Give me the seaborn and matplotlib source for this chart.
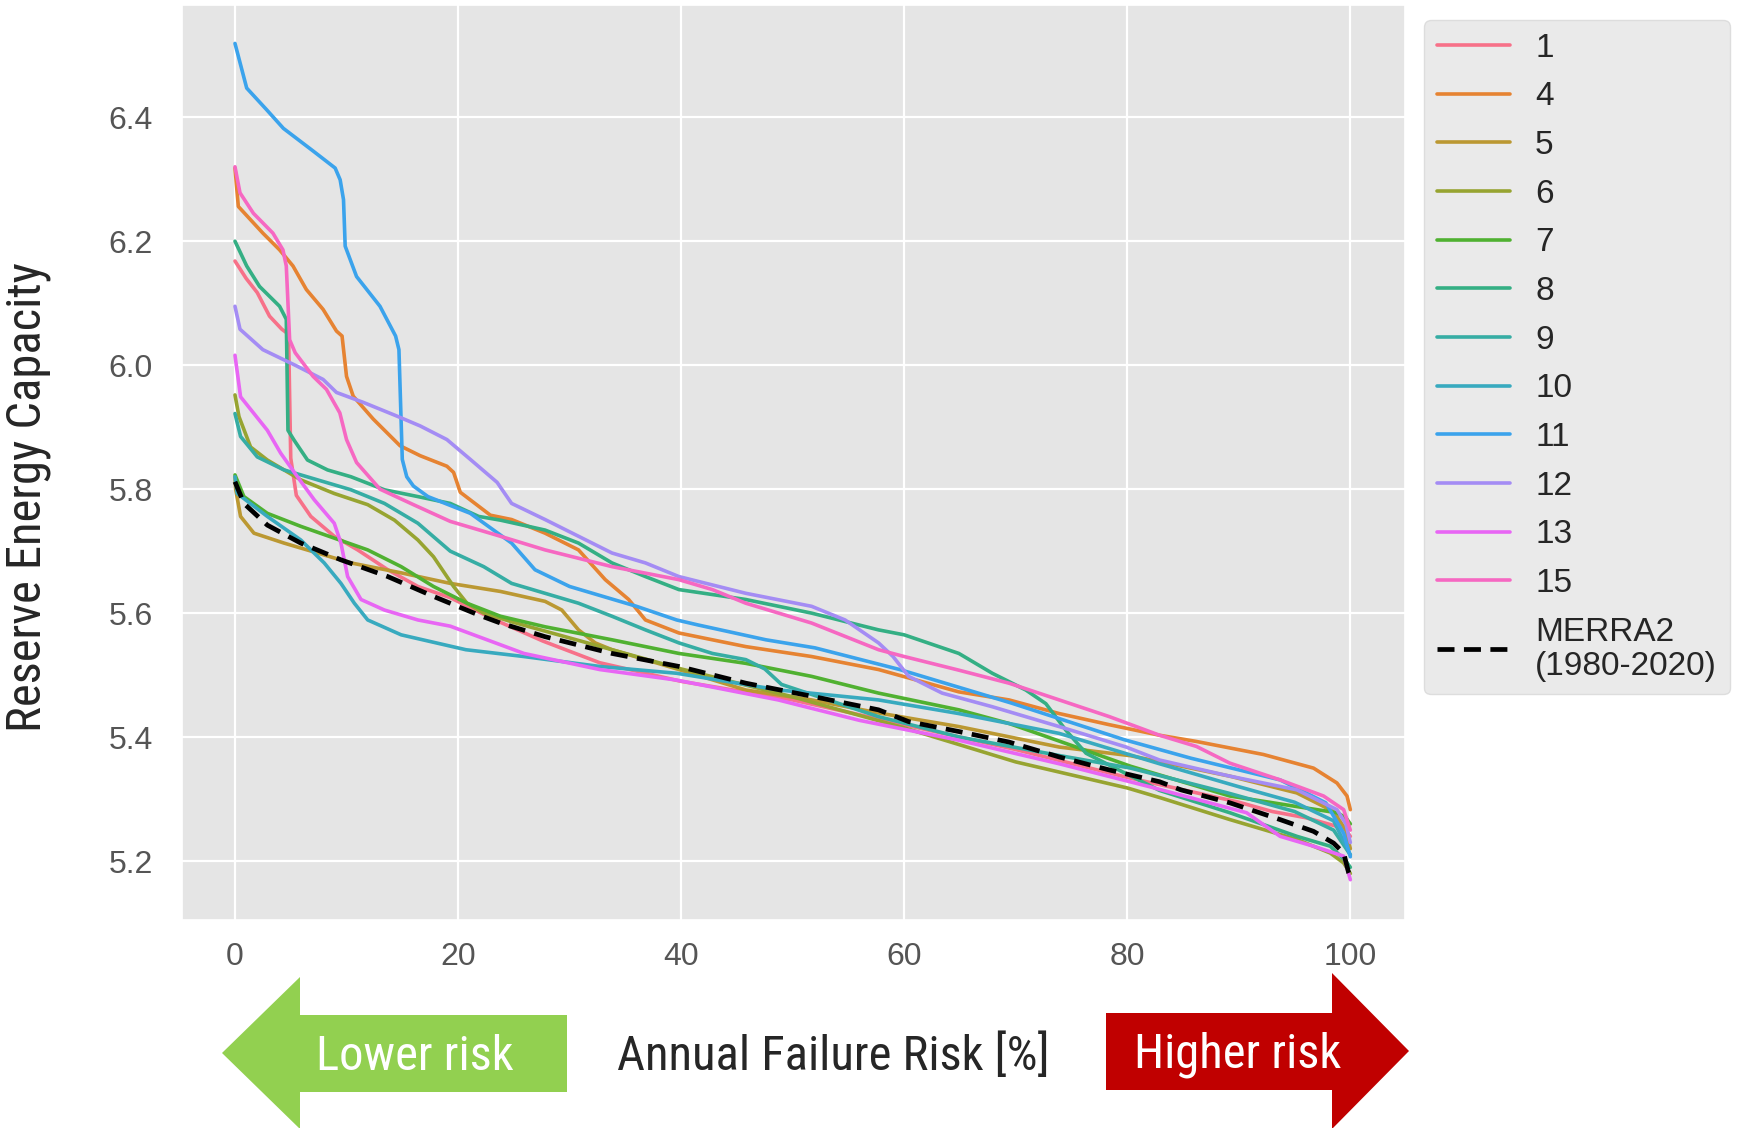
import matplotlib
matplotlib.use('Agg')
import matplotlib.pyplot as plt
from matplotlib import font_manager
from matplotlib.font_manager import FontProperties
from matplotlib.lines import Line2D
from matplotlib.patches import Polygon
import seaborn as sns
import pandas as pd

# runs shown in the legend (categorical hue, husl colours)
runs = ['1', '4', '5', '6', '7', '8', '9', '10', '11', '12', '13', '15']

# annual failure risk [%] and reserve energy capacity
risk_1 = [0, 1, 2, 3.1, 4.2, 4.8, 5.0, 5.5, 6.8, 8.9, 11, 13.7, 16.4, 19.3, 23.2, 27.6, 32.7, 40, 50, 60, 70, 80, 90, 93, 96, 98.8, 99.6, 100]
cap_1 = [6.168, 6.14, 6.117, 6.079, 6.058, 6.05, 5.85, 5.79, 5.756, 5.724, 5.702, 5.67, 5.643, 5.625, 5.59, 5.555, 5.52, 5.49, 5.46, 5.42, 5.38, 5.335, 5.295, 5.28, 5.27, 5.256, 5.25, 5.24]

risk_4 = [0, 0.3, 2.5, 4.0, 5.2, 6.4, 7.9, 9.1, 9.6, 10, 10.6, 12.4, 14.8, 16.6, 19, 19.6, 20.2, 22.9, 24.8, 27.8, 30.8, 33.2, 35.3, 36.8, 39.8, 45.8, 51.7, 57.7, 64.9, 69.4, 73.9, 78.4, 82.9, 86.2, 92.2, 96.7, 98.8, 99.7, 100]
cap_4 = [6.318, 6.256, 6.213, 6.186, 6.16, 6.122, 6.09, 6.055, 6.047, 5.982, 5.95, 5.913, 5.87, 5.854, 5.837, 5.827, 5.795, 5.758, 5.751, 5.729, 5.702, 5.654, 5.622, 5.589, 5.568, 5.546, 5.53, 5.509, 5.473, 5.46, 5.438, 5.42, 5.403, 5.393, 5.372, 5.35, 5.326, 5.305, 5.283]

risk_5 = [0, 0.06, 0.5, 1.7, 4.4, 7.4, 10.4, 14.9, 19.3, 23.8, 27.8, 29.3, 30.8, 32.3, 33.8, 39.8, 45.8, 51.7, 57.7, 64.9, 73.9, 80.3, 89.2, 95.2, 98.5, 99.6, 100]
cap_5 = [5.82, 5.80, 5.756, 5.729, 5.713, 5.697, 5.681, 5.665, 5.648, 5.635, 5.619, 5.605, 5.573, 5.552, 5.541, 5.509, 5.476, 5.46, 5.439, 5.417, 5.384, 5.37, 5.337, 5.31, 5.28, 5.25, 5.22]

risk_6 = [0, 0.36, 1.4, 2.9, 5.9, 8.9, 11.9, 14.3, 16.4, 17.8, 19.6, 20.8, 22.3, 25, 30, 40, 50, 60, 70, 80, 83, 89.2, 95.2, 98.2, 99.4, 100]
cap_6 = [5.952, 5.917, 5.868, 5.847, 5.815, 5.793, 5.775, 5.75, 5.718, 5.691, 5.643, 5.616, 5.60, 5.585, 5.56, 5.51, 5.465, 5.415, 5.36, 5.318, 5.302, 5.267, 5.235, 5.213, 5.197, 5.18]

risk_7 = [0, 0.8, 2.9, 5.9, 8.9, 11.9, 14.9, 17.8, 20.8, 23.8, 27.8, 33.8, 39.8, 45.8, 51.7, 57.7, 64.9, 69.4, 72.1, 80.3, 89.2, 95.2, 98.8, 99.6, 100]
cap_7 = [5.823, 5.788, 5.761, 5.74, 5.721, 5.702, 5.675, 5.643, 5.616, 5.595, 5.578, 5.557, 5.535, 5.519, 5.498, 5.471, 5.444, 5.422, 5.405, 5.353, 5.305, 5.288, 5.278, 5.27, 5.26]

risk_8 = [0, 1.05, 2.2, 4.0, 4.6, 4.75, 5.3, 6.5, 8.3, 10.4, 13.4, 16.4, 19.3, 21.85, 23.8, 27.8, 30.8, 33.8, 36.8, 39.8, 45.8, 51.7, 57.7, 60, 64.9, 67.9, 70.9, 72.7, 74.5, 76.3, 79.9, 82.9, 89.2, 95.2, 98.2, 99.6, 100]
cap_8 = [6.2, 6.16, 6.127, 6.095, 6.074, 5.895, 5.879, 5.847, 5.831, 5.82, 5.799, 5.788, 5.777, 5.756, 5.75, 5.734, 5.713, 5.681, 5.659, 5.638, 5.622, 5.60, 5.573, 5.565, 5.535, 5.503, 5.476, 5.454, 5.411, 5.374, 5.341, 5.314, 5.278, 5.24, 5.224, 5.20, 5.19]

risk_9 = [0, 0.5, 2, 4.4, 7.4, 10.4, 13.4, 16.4, 19.3, 22.3, 24.8, 27.8, 30.8, 33.8, 36.8, 39.8, 42.8, 45.8, 47.5, 49, 57.7, 65, 74, 80.3, 89, 95, 98.5, 100]
cap_9 = [5.922, 5.885, 5.852, 5.831, 5.815, 5.799, 5.777, 5.745, 5.70, 5.675, 5.648, 5.632, 5.616, 5.595, 5.573, 5.552, 5.535, 5.525, 5.51, 5.485, 5.433, 5.40, 5.37, 5.35, 5.31, 5.28, 5.25, 5.21]

risk_10 = [0, 0.2, 2.9, 5.9, 8, 9.5, 10.7, 11.9, 14.9, 20.7, 25.9, 32.7, 39.6, 48.8, 57.7, 64.9, 73.9, 82.9, 90, 95, 98.5, 100]
cap_10 = [5.82, 5.793, 5.756, 5.718, 5.681, 5.648, 5.616, 5.589, 5.565, 5.541, 5.53, 5.514, 5.503, 5.476, 5.46, 5.438, 5.406, 5.357, 5.32, 5.295, 5.265, 5.21]

risk_11 = [0, 1.05, 2.84, 4.34, 7.04, 8.98, 9.43, 9.73, 9.88, 10.9, 13.0, 14.4, 14.7, 15.0, 15.4, 16.0, 17.3, 21.1, 24.8, 26.9, 30, 36, 39.6, 41.5, 47.6, 52, 59.6, 69.6, 79.7, 85.7, 93.7, 97.8, 99.4, 100]
cap_11 = [6.519, 6.447, 6.412, 6.382, 6.345, 6.318, 6.299, 6.267, 6.192, 6.143, 6.095, 6.047, 6.025, 5.848, 5.82, 5.805, 5.788, 5.761, 5.713, 5.67, 5.643, 5.611, 5.589, 5.581, 5.557, 5.544, 5.509, 5.455, 5.396, 5.366, 5.331, 5.294, 5.245, 5.207]

risk_12 = [0, 0.45, 2.5, 5.5, 7.9, 9.1, 11.5, 14.5, 16.6, 19, 21.1, 23.5, 24.8, 27.8, 30.8, 33.8, 36.8, 39.8, 45.8, 51.7, 54.7, 57.7, 59, 60.4, 63.4, 67.9, 73.9, 79.9, 82.9, 89.2, 95.2, 98.8, 99.6, 100]
cap_12 = [6.095, 6.058, 6.025, 5.999, 5.977, 5.956, 5.94, 5.918, 5.902, 5.88, 5.848, 5.811, 5.777, 5.751, 5.724, 5.697, 5.681, 5.659, 5.632, 5.611, 5.589, 5.552, 5.53, 5.498, 5.471, 5.449, 5.417, 5.384, 5.363, 5.337, 5.315, 5.283, 5.26, 5.23]

risk_13 = [0, 0.5, 1.7, 2.9, 4.1, 5.6, 7.1, 8.9, 9.5, 10.1, 11.3, 13.4, 16.4, 19.3, 25.9, 32.7, 39.6, 48.7, 56, 64.9, 73.9, 82, 90.7, 93.7, 96.7, 99.4, 100]
cap_13 = [6.016, 5.949, 5.922, 5.895, 5.858, 5.82, 5.783, 5.745, 5.713, 5.659, 5.622, 5.605, 5.589, 5.579, 5.535, 5.509, 5.492, 5.46, 5.427, 5.395, 5.357, 5.32, 5.278, 5.24, 5.224, 5.208, 5.17]

risk_15 = [0, 0.45, 1.65, 3.4, 4.3, 4.6, 4.9, 5.4, 7.0, 8.2, 9.4, 10, 10.9, 13, 16, 19.3, 23.8, 27.8, 33.8, 39.8, 42.8, 45.8, 51.7, 57.7, 60, 64.9, 69.4, 73.9, 78.4, 82.9, 86.2, 89.2, 93.7, 97.6, 99.4, 100]
cap_15 = [6.32, 6.278, 6.245, 6.213, 6.186, 6.16, 6.041, 6.02, 5.982, 5.961, 5.923, 5.88, 5.843, 5.80, 5.775, 5.748, 5.724, 5.702, 5.675, 5.654, 5.638, 5.616, 5.584, 5.541, 5.53, 5.508, 5.487, 5.46, 5.433, 5.403, 5.385, 5.358, 5.331, 5.305, 5.283, 5.25]

risk_merra = [0, 0.8, 2.9, 5.9, 9.5, 13.7, 17.8, 21.85, 23.8, 27.8, 33.8, 39.8, 45.8, 51.7, 57.7, 60.4, 64.9, 69.4, 73.9, 78.4, 82.9, 84.8, 89.2, 93.7, 96.7, 98.5, 99.4, 99.85, 100]
cap_merra = [5.812, 5.777, 5.742, 5.713, 5.686, 5.659, 5.627, 5.597, 5.584, 5.562, 5.535, 5.514, 5.487, 5.466, 5.444, 5.425, 5.409, 5.392, 5.368, 5.347, 5.328, 5.315, 5.294, 5.267, 5.248, 5.229, 5.213, 5.181, 5.175]
merra_label = 'MERRA2\n(1980-2020)'

x_ticks = [0, 20, 40, 60, 80, 100]
y_ticks = [5.2, 5.4, 5.6, 5.8, 6.0, 6.2, 6.4]

risks = [risk_1, risk_4, risk_5, risk_6, risk_7, risk_8, risk_9, risk_10, risk_11, risk_12, risk_13, risk_15]
caps = [cap_1, cap_4, cap_5, cap_6, cap_7, cap_8, cap_9, cap_10, cap_11, cap_12, cap_13, cap_15]

df = pd.concat([pd.DataFrame({'risk': r, 'capacity': c, 'run': name})
                for name, r, c in zip(runs, risks, caps)], ignore_index=True)

sns.set_theme(style="darkgrid", rc={'axes.facecolor': '#E5E5E5',
                                     'grid.color': 'white',
                                     'grid.linewidth': 1.6,
                                     'axes.edgecolor': 'white'})
plt.rcParams['font.family'] = ['Liberation Sans', 'DejaVu Sans']

# narrow font for the slide-style labels, if one is installed
fonts = font_manager.fontManager.ttflist
names = {f.name for f in fonts}
label_prop = FontProperties(family='DejaVu Sans')
for cand in ['Liberation Sans Narrow', 'Roboto Condensed', 'Open Sans Condensed', 'DejaVu Sans Condensed']:
    if cand in names:
        label_prop = FontProperties(family=cand)
        break
else:
    if any(f.name == 'DejaVu Sans' and f.stretch == 'condensed' for f in fonts):
        label_prop = FontProperties(family='DejaVu Sans', stretch='condensed')
dark = '#262626'

fig = plt.figure(figsize=(17.42, 11.28), dpi=100)
ax = fig.add_axes([182 / 1742, 1 - 920 / 1128, 1223 / 1742, 915 / 1128])

palette = sns.color_palette('husl', len(runs))
sns.lineplot(data=df, x='risk', y='capacity', hue='run', hue_order=runs,
             palette=palette, lw=2.6, errorbar=None, legend=False, ax=ax)
sns.lineplot(x=risk_merra, y=cap_merra, color='black', lw=3.4,
             linestyle=(0, (3.6, 2.0)), errorbar=None, ax=ax)

ax.set_xlim(-4.75, 104.9)
ax.set_ylim(5.105, 6.581)
ax.set_xticks(x_ticks)
ax.set_yticks(y_ticks)
ax.tick_params(axis='both', labelsize=23, labelcolor='#555555', length=0)
ax.tick_params(axis='x', pad=16)
ax.tick_params(axis='y', pad=21)

# size the label font so "Annual Failure Risk [%]" spans ~433 px as in the slide
probe = fig.text(0, 0, 'Annual Failure Risk [%]', fontproperties=label_prop, fontsize=30)
fig.canvas.draw()
label_size = 30 * 433 / probe.get_window_extent().width
probe.remove()
label_prop.set_size(label_size)

ax.set_ylabel('Reserve Energy Capacity', fontproperties=label_prop, color=dark)
ax.yaxis.set_label_coords((28 - 182) / 1223, (920 - 497) / 915)
ax.yaxis.label.set_verticalalignment('center')
ax.set_xlabel('Annual Failure Risk [%]', fontproperties=label_prop, color=dark)
ax.xaxis.set_label_coords((833 - 182) / 1223, (920 - 1057) / 915)
ax.xaxis.label.set_verticalalignment('center')

handles = [Line2D([], [], color=c, lw=2.6) for c in palette]
handles.append(Line2D([], [], color='black', lw=3.4, linestyle=(0, (3.6, 2.0))))
leg = ax.legend(handles, runs + [merra_label], loc='upper left',
                bbox_to_anchor=(1424 / 1742, 1 - 20 / 1128), bbox_transform=fig.transFigure,
                borderaxespad=0, fontsize=24, handlelength=2.2, handletextpad=0.75,
                labelspacing=0.53, borderpad=0.38, frameon=True, fancybox=True,
                facecolor='#E5E5E5', edgecolor='#D8D8D8', framealpha=0.8)
leg.get_frame().set_linewidth(1.0)
for t in leg.get_texts():
    t.set_color(dark)
    t.set_linespacing(1.12)


def fig_pts(pts):
    return [(x / 1742, 1 - y / 1128) for x, y in pts]


# "lower risk" / "higher risk" arrows under the axis
green = [(222, 1053), (300, 977), (300, 1015), (567, 1015), (567, 1092), (300, 1092), (300, 1129)]
red = [(1106, 1013), (1332, 1013), (1332, 973), (1409, 1051), (1332, 1129), (1332, 1090), (1106, 1090)]
fig.add_artist(Polygon(fig_pts(green), closed=True, transform=fig.transFigure,
                       facecolor='#92D050', edgecolor='none'))
fig.add_artist(Polygon(fig_pts(red), closed=True, transform=fig.transFigure,
                       facecolor='#C00000', edgecolor='none'))
fig.text(415 / 1742, 1 - 1057 / 1128, 'Lower risk', color='white',
         fontproperties=label_prop, ha='center', va='center')
fig.text(1238 / 1742, 1 - 1055 / 1128, 'Higher risk', color='white',
         fontproperties=label_prop, ha='center', va='center')

fig.savefig('out.png', dpi=100)
plt.close('all')
